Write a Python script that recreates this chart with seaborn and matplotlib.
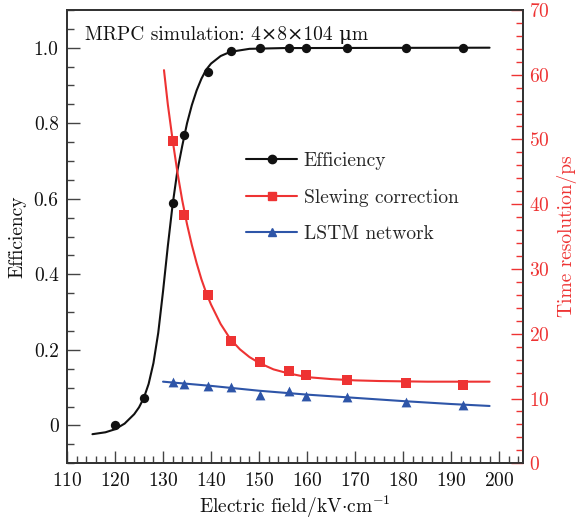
import numpy as np
import pandas as pd
import seaborn as sns
import matplotlib.pyplot as plt
from matplotlib.lines import Line2D
from matplotlib.ticker import MultipleLocator, FixedLocator, FixedFormatter

# measured points
field = [120, 126, 132, 134.4, 139.3, 144.1, 150.2, 156.2, 159.8, 168.3, 180.5, 192.4]
efficiency = [0.0, 0.072, 0.59, 0.77, 0.935, 0.99, 0.998, 0.998, 0.998, 0.998, 0.998, 0.998]

field_ps = [132, 134.4, 139.3, 144.1, 150.2, 156.2, 159.8, 168.3, 180.5, 192.4]
slewing = [49.8, 38.4, 26.0, 18.9, 15.6, 14.25, 13.6, 12.9, 12.35, 12.05]
lstm = [12.5, 12.2, 11.95, 11.7, 10.55, 11.2, 10.45, 10.2, 9.5, 9.0]

# fitted curves
eff_fit_x = [115.3, 118, 120, 122, 124, 125, 126, 127, 128, 129, 130, 131, 132, 133, 134, 135,
             136, 137, 138, 139, 140, 142, 144, 148, 155, 198]
eff_fit_y = [-0.023, -0.018, -0.01, 0.005, 0.03, 0.048, 0.073, 0.11, 0.165, 0.245, 0.355, 0.475,
             0.585, 0.675, 0.74, 0.80, 0.848, 0.887, 0.918, 0.942, 0.958, 0.978, 0.989, 0.997,
             0.999, 1.0]

slew_fit_x = [130.2, 131, 132, 133, 134, 135, 136, 137, 138, 139, 140, 142, 144, 146, 148, 150,
              153, 156, 160, 165, 170, 175, 185, 198]
slew_fit_y = [60.7, 55.4, 49.9, 44.9, 40.6, 36.9, 33.7, 30.9, 28.4, 26.3, 24.5, 21.5, 19.2, 17.6,
              16.4, 15.5, 14.5, 13.9, 13.3, 13.0, 12.8, 12.7, 12.6, 12.6]

lstm_fit_x = [130, 140, 150, 160, 170, 180, 190, 198]
lstm_fit_y = [12.6, 11.95, 11.2, 10.6, 10.1, 9.6, 9.15, 8.85]

black = '#111111'
red = '#ee3333'
blue = '#2e55a8'
fs = 14

sns.set_style('ticks')
plt.rcParams['font.family'] = ['cmr10', 'DejaVu Serif']
plt.rcParams['mathtext.fontset'] = 'cm'
plt.rcParams['axes.unicode_minus'] = False
plt.rcParams['axes.formatter.use_mathtext'] = True

fig = plt.figure(figsize=(5.76, 5.22), dpi=100)
ax = fig.add_axes([0.1163, 0.1125, 0.792, 0.8685])
ax2 = ax.twinx()

sns.lineplot(x=eff_fit_x, y=eff_fit_y, ax=ax, color=black, lw=1.5)
sns.scatterplot(x=field, y=efficiency, ax=ax, color=black, marker='o', s=45, edgecolor=black, linewidth=0)

sns.lineplot(x=slew_fit_x, y=slew_fit_y, ax=ax2, color=red, lw=1.5)
sns.scatterplot(x=field_ps, y=slewing, ax=ax2, color=red, marker='s', s=55, edgecolor=red, linewidth=0)
sns.lineplot(x=lstm_fit_x, y=lstm_fit_y, ax=ax2, color=blue, lw=1.5)
sns.scatterplot(x=field_ps, y=lstm, ax=ax2, color=blue, marker='^', s=50, edgecolor=blue, linewidth=0)

ax.set_xlim(110, 205)
ax.set_ylim(-0.1, 1.1)
ax2.set_ylim(0, 70)

ax.xaxis.set_major_locator(MultipleLocator(10))
ax.xaxis.set_minor_locator(MultipleLocator(2))
ax.yaxis.set_major_locator(FixedLocator([0, 0.2, 0.4, 0.6, 0.8, 1.0]))
ax.yaxis.set_major_formatter(FixedFormatter(['0', '0.2', '0.4', '0.6', '0.8', '1.0']))
ax.yaxis.set_minor_locator(MultipleLocator(0.05))
ax2.yaxis.set_major_locator(MultipleLocator(10))
ax2.yaxis.set_minor_locator(MultipleLocator(2))

ax.tick_params(axis='both', which='major', direction='in', length=9, width=1, color='#444444',
               labelsize=fs, labelcolor='#111111', top=False, right=False, pad=6)
ax.tick_params(axis='both', which='minor', direction='in', length=5, width=1, color='#444444',
               top=False, right=False)
ax2.tick_params(axis='y', which='major', direction='in', length=9, width=1, color=red,
                labelsize=fs, labelcolor=red, pad=4)
ax2.tick_params(axis='y', which='minor', direction='in', length=5, width=1, color=red)

for a in (ax, ax2):
    for s in a.spines.values():
        s.set_color('#333333')
        s.set_linewidth(1.3)

ax.set_xlabel(r'Electric field/kV$\cdot$cm$^{-1}$', fontsize=fs, color='#111111', labelpad=3)
ax.set_ylabel('Efficiency', fontsize=fs, color='#111111', labelpad=5)
ax2.set_ylabel('Time resolution/ps', fontsize=fs, color=red)
ax2.yaxis.set_label_coords(1.075, 0.5)

ax.text(0.04, 0.965, 'MRPC simulation: 4×8×104 μm', transform=ax.transAxes,
        fontsize=fs, color='#111111', va='top', ha='left')

handles = [
    Line2D([], [], color=black, lw=1.5, marker='o', markersize=6),
    Line2D([], [], color=red, lw=1.5, marker='s', markersize=6),
    Line2D([], [], color=blue, lw=1.5, marker='^', markersize=6),
]
ax2.legend(handles, ['Efficiency', 'Slewing correction', 'LSTM network'], loc='upper left',
           bbox_to_anchor=(0.355, 0.725), frameon=False, fontsize=fs, handlelength=2.6,
           labelspacing=0.95, handletextpad=0.35)

fig.savefig('out.png', dpi=100)
